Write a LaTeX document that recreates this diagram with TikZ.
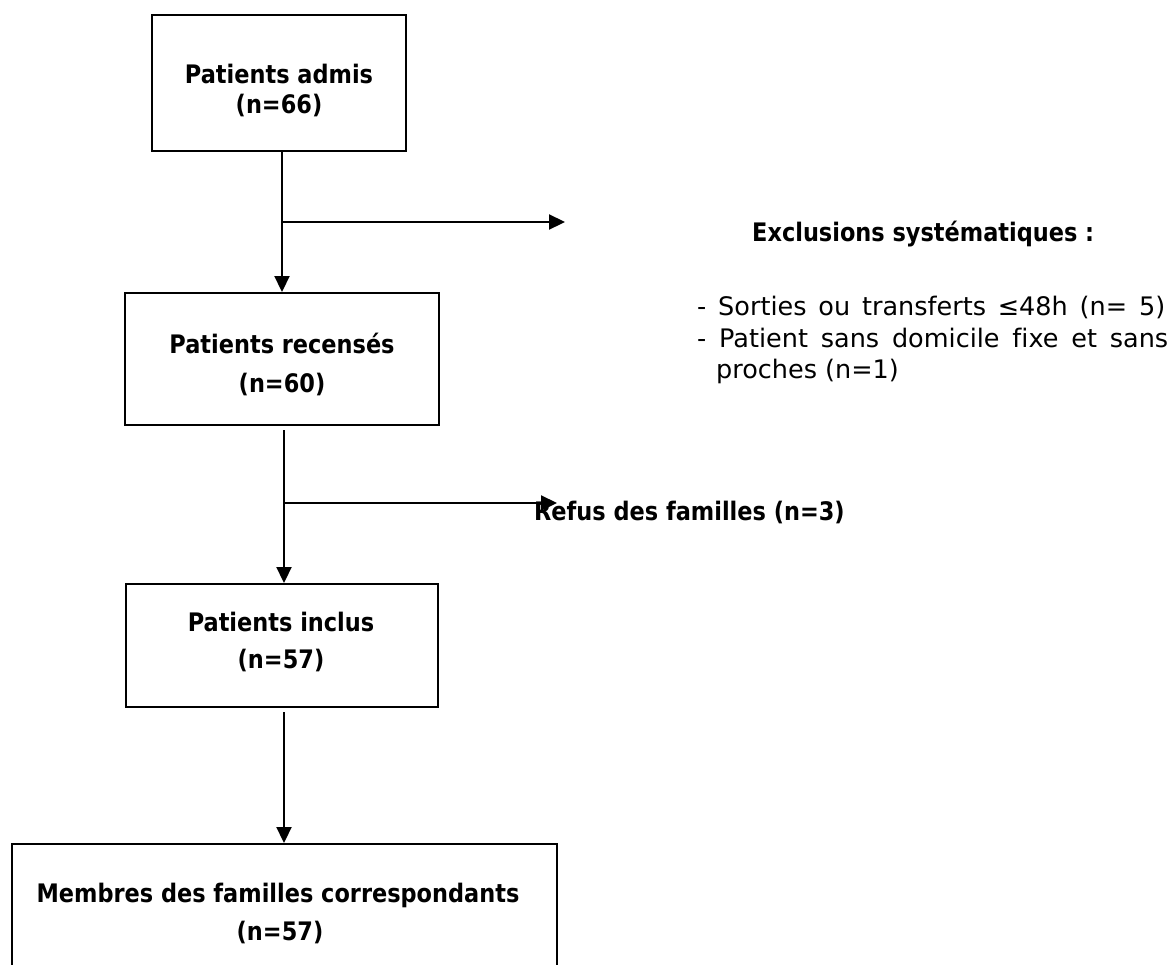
\documentclass[tikz,border=0pt]{standalone}
\usepackage{fontspec}
\setmainfont{DejaVu Sans}[Ligatures=CommonOff]
\newfontfamily\bfam{DejaVu Sans}[Ligatures=CommonOff,FakeStretch=0.88]
\usetikzlibrary{arrows.meta}
\begin{document}
\begin{tikzpicture}[x=1pt,y=-1pt,
  box/.style={draw, line width=2pt, inner sep=0pt},
  arr/.style={line width=2.2pt, -{Triangle[length=16pt,width=15pt]}},
  bt/.style={anchor=base, font=\bfam\fontsize{25.5}{30}\selectfont\bfseries, inner sep=0pt},
  tt/.style={anchor=base west, font=\bfam\fontsize{25.5}{30}\selectfont\bfseries, inner sep=0pt},
  lt/.style={anchor=base west, font=\fontsize{25.5}{30}\selectfont, inner sep=0pt}]
\useasboundingbox (0,0) rectangle (1172,964);
\clip (0,0) rectangle (1172,964);
% boxes
\node[box, minimum width=254pt, minimum height=136pt] (b1) at (279,83) {};
\node[box, minimum width=314pt, minimum height=132pt] (b2) at (282,359) {};
\node[box, minimum width=312pt, minimum height=123pt] (b3) at (282,645.5) {};
\node[box, minimum width=545pt, minimum height=156pt] (b4) at (284.5,922) {};
% box texts
\node[bt] (t1a) at (279,83) {Patients admis};
\node[bt] (t1b) at (279,113) {(n=66)};
\node[bt] (t2a) at (282,353) {Patients recensés};
\node[bt] (t2b) at (282,392) {(n=60)};
\node[bt] (t3a) at (281,631) {Patients inclus};
\node[bt] (t3b) at (281,668) {(n=57)};
\node[bt] (t4a) at (278,902) {Membres des familles correspondants};
\node[bt] (t4b) at (280,940) {(n=57)};
% side texts
\node[tt] (ex) at (752,241) {Exclusions systématiques :};
\node[lt] (l1) at (697,315) {\makebox[468pt][s]{- Sorties ou transferts ≤48h (n= 5)}};
\node[lt] (l2) at (697,347) {\makebox[471pt][s]{- Patient sans domicile fixe et sans}};
\node[lt] (l3) at (716,378) {proches (n=1)};
\node[tt] (rf) at (534,520) {Refus des familles (n=3)};
% connectors
\coordinate (j1) at (282,222);
\coordinate (e1) at (565,222);
\coordinate (j2) at (284,503);
\coordinate (e2) at (557,503);
\draw[arr] ([xshift=3pt]b1.south) -- (b2.north);
\draw[arr] (j1) -- (e1);
\draw[arr] ([xshift=2pt,yshift=-4pt]b2.south) -- ([xshift=2pt]b3.north);
\draw[arr] (j2) -- (e2);
\draw[arr] ([xshift=2pt,yshift=-4pt]b3.south) -- ([xshift=-0.5pt]b4.north);
\end{tikzpicture}
\end{document}
